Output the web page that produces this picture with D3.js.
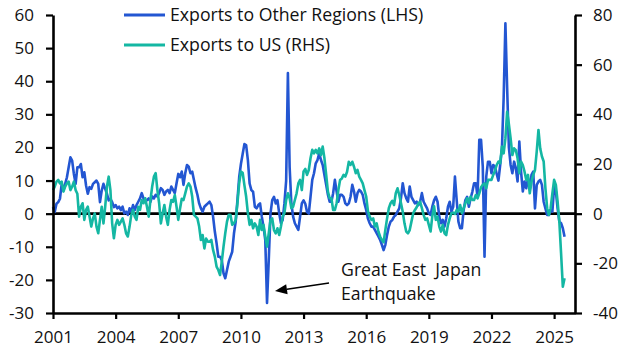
<!DOCTYPE html>
<html><head><meta charset="utf-8">
<script src="https://cdn.jsdelivr.net/npm/d3@7"></script>
<style>
body{margin:0;background:#fff}
svg{display:block}
text{font-family:"Open Sans",sans-serif;fill:#111}
</style>
</head><body>
<svg id="c" width="632" height="359"></svg>
<script>
// ---------- DATA (monthly, y/y %, starting Jan 2001) ----------
const startYear = 2001;
const otherRegions = [ // LHS
 2,0.5,3,3.5,4.5,9,7,9,11,14,17,16,
 12,9,14,14,15,11,12.5,8.5,6,8,7.5,9,
 9.5,10,9,3.5,7,9,7.5,6,4,4.5,3.5,2,
 2.6,1.6,2.1,1.1,2.1,0.1,0.6,-0.4,1.6,0.6,2.6,1.1,
 2.6,3.6,4.6,6.2,4.6,3.6,4.1,4.6,3.6,5.2,4.6,5.7,
 5.2,6.2,7.7,7.2,5.7,6.7,7.2,6.2,8.2,7.2,6.2,9.2,
 12,11,12.7,8.7,12.2,14.7,14.2,12.2,12.7,10.2,7.7,5.7,
 3.1,1.6,0.6,2.1,2.6,3.1,3.6,2.6,-0.9,-5.4,-8.9,-13,
 -13,-14,-18,-19.5,-17,-14.5,-13,-11.5,-6,-2.4,4.1,11,
 15,18,21,20.7,16.2,9.1,7.1,6.6,2.1,1.6,2.6,3.1,
 -0.9,-4,-8,-27,-14,0.1,4.1,5.1,3.1,4.1,0.1,-2.9,
 -1.9,3.1,10,42.5,14,3,-0.9,-2.9,-3.9,-4.9,-0.9,3.1,
 4,3,0.5,0,5.1,10.2,12.2,15.2,16.2,18.2,16.2,14.7,
 11.7,8.7,5.7,3.6,3.6,6.2,10.2,6.7,3.6,5.7,5.7,5.1,
 3.1,2.6,3.1,5.1,8.7,6.7,3.6,6.2,7.2,6.7,5.7,3.1,
 1.1,-1.5,-2.9,-3.9,-3.9,-4.9,-5.9,-6.9,-7.9,-9.4,-11,-9.4,
 -6.4,-3.9,-2.4,-1.9,-0.9,-0.4,0.6,1.6,4.7,9.2,6.2,4.7,
 3.6,8.2,5.1,4.1,3.1,3.6,2.6,3.6,6.2,3.6,2.6,1.6,
 0.1,-0.4,2.1,4,5.1,3.6,-0.9,-2.9,-1.9,-3.9,-1.4,2.1,
 3.6,0.6,2.1,11.2,4.1,-2.4,-4.4,-4.4,1.1,4.1,5.1,2.1,
 4.6,6.6,9.2,9.2,5.1,22.3,22.3,14.2,-13,11.2,15.7,15.7,
 12.2,14.7,14.2,12,10,14.7,19.7,35,57.5,38,20,14.7,
 12.2,15.7,13.7,9.7,21.8,12.7,6.7,9.7,7.7,10.7,7.2,11.7,
 12.7,1.6,8.7,9.7,10.2,8.7,3.6,1.6,-0.4,-0.4,1.1,0.6,
 8.2,6.7,1.6,-2.4,-2.9,-4.4,-7
];
const toUS = [ // RHS
 9.5,10.9,12.9,13.6,12.2,12.9,8.9,10.9,12.2,12.9,9.5,10.9,
 12.9,9.5,8,-1.2,2.8,4.2,-2.5,1.5,2.8,-1.2,-5.2,-1.9,
 0.1,-5.2,-7.9,-2.5,2.8,-3.9,2.8,10.9,14.9,9.5,-3.9,-9.9,
 -4.5,-2.5,-4.5,-3.2,-1.9,-4.5,-7.9,-9.2,-5.2,-0.5,1.5,-1.2,
 -2.5,2.8,1.5,5.5,4.2,6.2,2.8,-1.2,5.5,10.9,14.9,16.3,
 9.5,4.2,-3.9,0.1,3.5,-1.2,-4.5,1.5,5.5,4.8,7.5,2.8,
 -2.5,2,6,5.5,8.2,10.9,12.2,10.9,6.9,-0.5,-1.2,-1.9,
 -5.2,-10.6,-8.6,-14,-10,-11.3,-11.3,-10.6,-14.6,-17.3,-21.3,-22.7,
 -24.7,-19.3,-13.3,-7.9,-3.2,-0.5,-0.5,-4.5,-3.9,-2.5,4.2,12.2,
 17,16.5,11.5,6.9,0.2,-4.5,-2.5,-5.9,-3.9,-5.2,-8.6,-2.5,
 -6.6,-4.5,-9.2,-13.3,-7.9,-2.5,-1.9,-6.6,-7.9,-5.9,-8.6,-5.2,
 -1.2,0.2,5.5,8.2,6.2,2.2,2.8,5.5,8.2,12.2,13.6,9.5,
 17,18,15.6,17.6,22.3,25.7,24.3,25.7,24.3,26.3,23.6,27,
 22.3,15.6,8.9,6.2,6.2,1.5,1.5,4.2,9.5,13.6,14.2,15.6,
 14.9,16.9,20.9,19.6,20.9,18.9,16.3,17.6,14.9,13.6,12.2,9.5,
 6.9,1,-1.2,-2.5,-1.9,-5.2,-3.9,-7.2,-9.2,-10.6,-11.5,-6.6,
 -1.9,2.2,4.2,5.2,3.5,8.2,10.2,7.5,4.2,0.8,-3.9,-7.2,
 -7.9,-6.6,-3.2,0.1,1.5,2.6,4.2,4.8,2.2,-0.5,-2.5,-1.9,
 -4.5,-7.2,-1,3,-2.5,-1.2,-5.2,-7.2,-4.5,-7.9,-8.6,-4.5,
 -1.9,0.2,0.4,-0.1,1.5,0.8,3.5,0.2,2.2,4.2,6.2,4.2,
 6.9,5.5,5.5,7.5,6.2,8.2,10.6,11.6,12.2,10.2,13.6,13.6,
 13.6,15.6,17.3,19.6,21,20.3,27,24.3,30.3,41,36,30.3,
 23.6,26.3,25.6,22.3,16.3,21,19.6,16.9,13.6,15.6,8.2,12.9,
 15.6,17.6,25,33.7,26.3,23,21,10.2,2.2,-0.5,2.2,8.2,
 13.6,11.6,4.8,-3.2,-16,-29.4,-26
];
const leftTicks = [-30,-20,-10,0,10,20,30,40,50,60];
const rightTicks = [-40,-20,0,20,40,60,80];
const yearTicks = [2001,2004,2007,2010,2013,2016,2019,2022,2025];
const seriesNames = ["Exports to Other Regions (LHS)", "Exports to US (RHS)"];
const seriesColors = ["#2356d2", "#14b7a3"];
const annotationLines = ["Great East  Japan", "Earthquake"];
const quake = {year: 2011 + 3/12, value: -27};

// ---------- CHART ----------
const svg = d3.select("#c");
const FS = 17, FS2 = 17.7;
const x = d3.scaleLinear().domain([2001, 2026]).range([53, 575]);
const yL = d3.scaleLinear().domain([-30, 60]).range([313, 15]);
const yR = d3.scaleLinear().domain([-40, 80]).range([313, 15]);
const t = i => startYear + i / 12;

// zero line
svg.append("line")
  .attr("x1", x(2001)).attr("x2", x(2026))
  .attr("y1", yL(0)).attr("y2", yL(0))
  .attr("stroke", "#000").attr("stroke-width", 2.6);

// series
const lineL = d3.line().x((d, i) => x(t(i))).y(d => yL(d));
const lineR = d3.line().x((d, i) => x(t(i))).y(d => yR(d));
svg.append("path").datum(otherRegions).attr("d", lineL)
  .attr("fill", "none").attr("stroke", seriesColors[0]).attr("stroke-width", 2.6)
  .attr("stroke-linejoin", "round");
svg.append("path").datum(toUS).attr("d", lineR)
  .attr("fill", "none").attr("stroke", seriesColors[1]).attr("stroke-width", 2.6)
  .attr("stroke-linejoin", "round");

// axes
function styleAxis(g) {
  g.attr("font-size", FS).attr("font-family", "Open Sans, sans-serif");
  g.select(".domain").attr("stroke", "#000").attr("stroke-width", 2.6);
  g.selectAll(".tick line").attr("stroke", "#000").attr("stroke-width", 2.2);
  g.selectAll(".tick text").attr("fill", "#111");
}
svg.append("g").attr("transform", `translate(${x(2001)},0)`)
  .call(d3.axisLeft(yL).tickValues(leftTicks).tickFormat(d => String(d))
    .tickSize(7).tickSizeOuter(0).tickPadding(12))
  .call(styleAxis);
svg.append("g").attr("transform", `translate(${x(2026)},0)`)
  .call(d3.axisRight(yR).tickValues(rightTicks).tickFormat(d => String(d))
    .tickSize(7).tickSizeOuter(0).tickPadding(11))
  .call(styleAxis);
svg.append("g").attr("transform", `translate(0,${yL(-30)})`)
  .call(d3.axisBottom(x).tickValues(yearTicks).tickFormat(d => String(d))
    .tickSize(6).tickSizeOuter(0).tickPadding(12))
  .call(styleAxis);

// legend
seriesNames.forEach((name, i) => {
  const ly = 15 + i * 30;
  svg.append("line").attr("x1", 124).attr("x2", 165).attr("y1", ly).attr("y2", ly)
    .attr("stroke", seriesColors[i]).attr("stroke-width", 3);
  svg.append("text").attr("x", 170).attr("y", ly).attr("dy", "0.36em")
    .attr("font-size", FS2).text(name);
});

// annotation
const tipX = x(quake.year) + 8, tipY = yL(quake.value) - 12;
const startX = tipX + 54, startY = tipY - 8;
const ang = Math.atan2(startY - tipY, startX - tipX);
const hl = 12, hw = 5;
const bx = tipX + hl * Math.cos(ang), by = tipY + hl * Math.sin(ang);
svg.append("line").attr("x1", startX).attr("y1", startY).attr("x2", bx).attr("y2", by)
  .attr("stroke", "#000").attr("stroke-width", 1.5);
svg.append("path").attr("fill", "#000").attr("d",
  `M${tipX},${tipY}L${bx - hw*Math.sin(ang)},${by + hw*Math.cos(ang)}L${bx + hw*Math.sin(ang)},${by - hw*Math.cos(ang)}Z`);
annotationLines.forEach((s, i) => {
  svg.append("text").attr("x", startX + 12).attr("y", 276 + i * 24)
    .attr("font-size", FS2).attr("xml:space", "preserve").style("white-space", "pre").text(s);
});
</script>
</body></html>
